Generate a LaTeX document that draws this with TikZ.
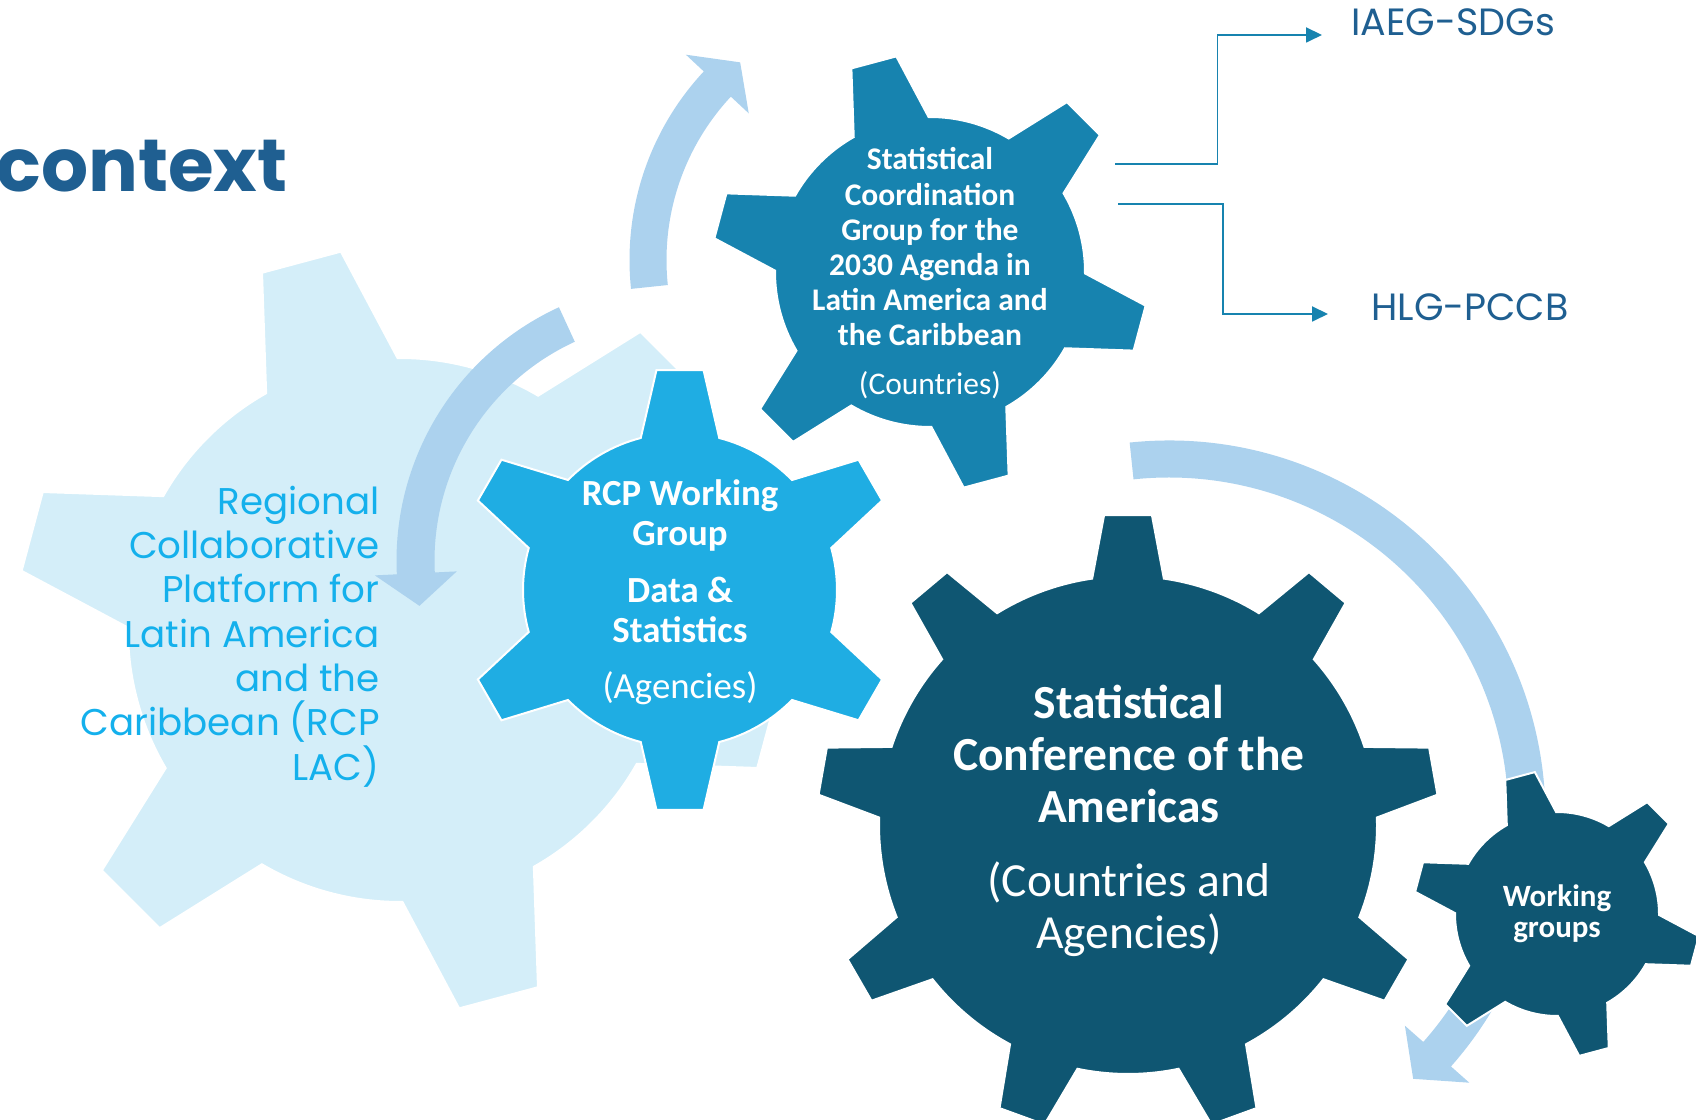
\documentclass[tikz,border=0pt]{standalone}
\usepackage{fontspec}
\usetikzlibrary{arrows.meta,calc,positioning}
\newfontfamily\gearfont{Carlito}
\newfontfamily\montfont{Poppins}
\definecolor{lacfill}{HTML}{D4EEF9}
\definecolor{arrowfill}{HTML}{ACD2EE}
\definecolor{rcpfill}{HTML}{1FADE3}
\definecolor{scgfill}{HTML}{1783AF}
\definecolor{scafill}{HTML}{0F5672}
\definecolor{lactext}{HTML}{14B0EC}
\definecolor{navy}{HTML}{1F5F91}

% gear: style, centre, body radius, teeth, first tooth, base half angle, tip half angle, tip factor
\newcommand{\drawgear}[8]{%
  \path[#1] ($#2+({#5-#6}:#3)$)
    \foreach \k in {1,...,#4} {
      -- ($#2+({#5+(\k-1)*360/#4-#7}:{#8*#3})$)
      -- ($#2+({#5+(\k-1)*360/#4+#7}:{#8*#3})$)
      -- ($#2+({#5+(\k-1)*360/#4+#6}:#3)$)
      arc[start angle={#5+(\k-1)*360/#4+#6}, end angle={#5+\k*360/#4-#6}, radius=#3]
    } -- cycle;}

% bent arrow: centre, mid radius, half band, half head, start, head start, tip
\newcommand{\bentarrow}[7]{%
  \fill[bent] ($#1+(#5:{#2+#3})$) arc[start angle=#5, end angle=#6, radius={#2+#3}]
    -- ($#1+(#6:{#2+#4})$) -- ($#1+(#7:#2)$) -- ($#1+(#6:{#2-#4})$)
    -- ($#1+(#6:{#2-#3})$) arc[start angle=#6, end angle=#5, radius={#2-#3}] -- cycle;}

\begin{document}
\begin{tikzpicture}[x=0.5pt,y=0.5pt]
  \tikzstyle{gear}=[draw=white,line width=1pt]
  \tikzstyle{geartext}=[text=white,align=center,inner sep=0pt]
  \tikzstyle{bent}=[fill=arrowfill]
  \tikzstyle{link}=[draw=scgfill,line width=0.9pt,-{Triangle[length=8pt,width=7.5pt]}]

  \useasboundingbox (0,0) rectangle (1696,1119);

  \drawgear{gear,fill=lacfill}{(400,489)}{272}{6}{45}{14.48}{6.12}{1.408}
  \bentarrow{(675.5,558.3)}{260}{19}{41}{114.7}{182.8}{190}
  \bentarrow{(906,859)}{258}{18.5}{43}{186}{137}{130}
  \bentarrow{(1169,302)}{358}{18.5}{43}{96}{-41.5}{-47}
  \drawgear{gear,fill=rcpfill}{(680,529)}{157}{6}{30}{14.48}{6.12}{1.408}
  \drawgear{gear,fill=scgfill}{(930,847)}{155}{6}{45}{14.48}{6.12}{1.408}
  \drawgear{gear,fill=scafill}{(1128,294)}{249}{9}{10}{8.28}{4.41}{1.2487}
  \drawgear{gear,fill=scafill}{(1557,205)}{102}{6}{45}{14.48}{6.12}{1.408}

  \node (title) [anchor=base west,inner sep=0pt,text=navy,font=\montfont\bfseries\fontsize{37}{43}\selectfont] at (-4,927.3) {context};
  \node (lac) [anchor=east,align=right,inner sep=0pt,text=lactext,font=\montfont\fontsize{18.6}{22.15}\selectfont] at (380,482.5)
    {Regional\\Collaborative\\Platform for\\Latin America\\and the\\Caribbean (RCP\\LAC)};
  \node (rcp) [geartext,font=\gearfont\bfseries\fontsize{18.4}{20}\selectfont] at (680,526.6)
    {RCP Working\\Group\\[8.35pt]Data \&\\Statistics\\[8.3pt]{\mdseries (Agencies)}};
  \node (scg) [geartext,font=\gearfont\bfseries\fontsize{15.75}{17.6}\selectfont] at (930,845.5)
    {Statistical\\Coordination\\Group for the\\2030 Agenda in\\Latin America and\\the Caribbean\\[6.9pt]{\mdseries (Countries)}};
  \node (sca) [geartext,font=\gearfont\bfseries\fontsize{23.75}{26}\selectfont] at (1129,298.5)
    {Statistical\\Conference of the\\Americas\\[11pt]{\mdseries (Countries and}\\{\mdseries Agencies)}};
  \node (wg) [geartext,font=\gearfont\bfseries\fontsize{15.5}{15.5}\selectfont] at (1557,205) {Working\\groups};

  \node (iaeg) [anchor=base west,inner sep=0pt,text=navy,font=\montfont\fontsize{19}{22}\selectfont] at (1351,1083) {IAEG-SDGs};
  \node (hlg) [anchor=base west,inner sep=0pt,text=navy,font=\montfont\fontsize{19}{22}\selectfont] at (1371,798) {HLG-PCCB};

  \coordinate (scgA) at (1115,955);
  \coordinate (scgB) at (1118,915);
  \draw[link,shorten >=14.5pt] (scgA) -- ++(102.5,0) |- ([yshift=0.5pt]iaeg.base west);
  \draw[link,shorten >=21.5pt] (scgB) -- ++(105,0) |- ([yshift=3.5pt]hlg.base west);
\end{tikzpicture}
\end{document}
